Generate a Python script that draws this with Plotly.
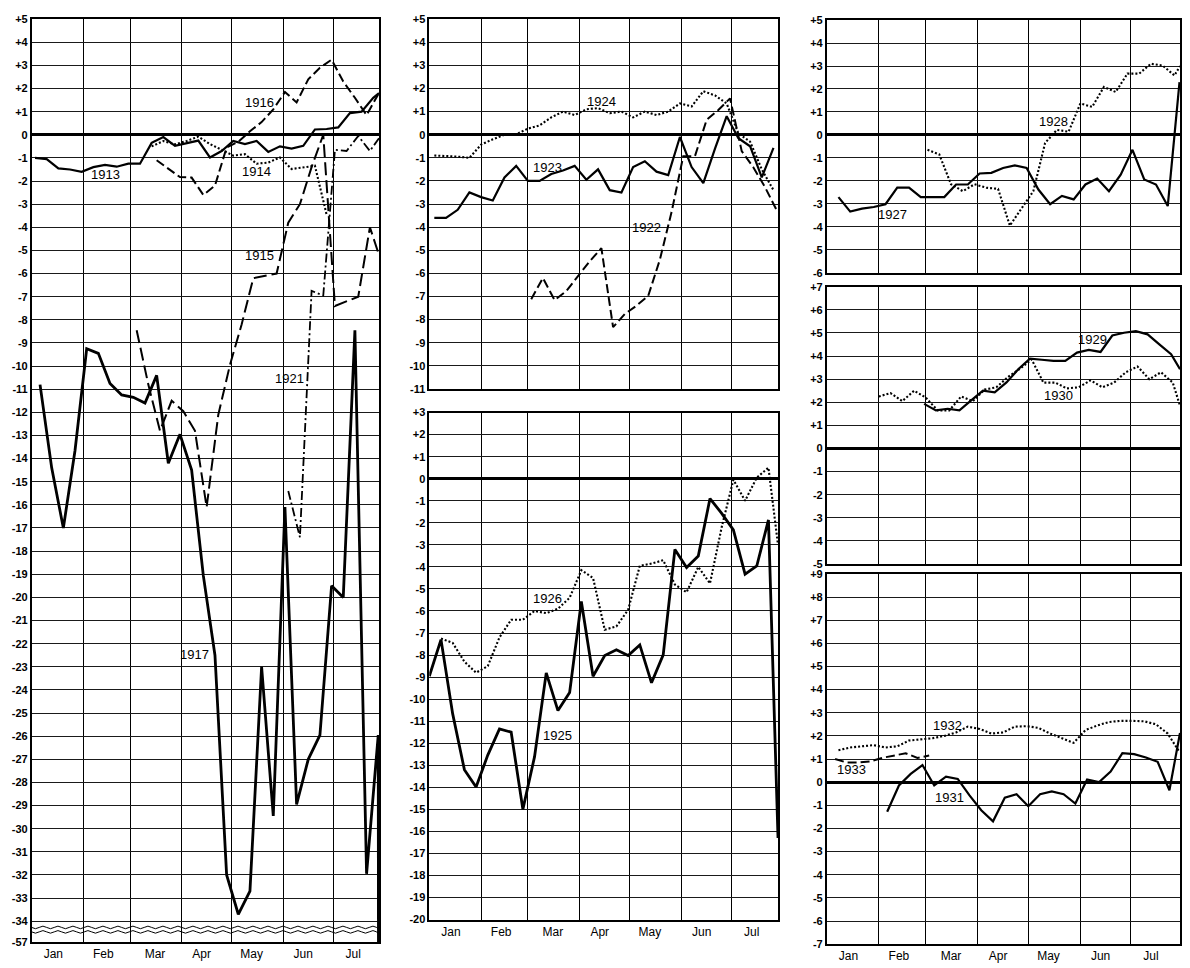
import pandas as pd
import plotly.graph_objects as go

# Every season is laid out on one nominal (non-leap) calendar year.
YEAR = 1929
W, H = 1190, 968

MONTHS = ["Jan", "Feb", "Mar", "Apr", "May", "Jun", "Jul"]
MONTH_LABEL_DATES = ["01-14", "02-13", "03-16", "04-13", "05-13", "06-13", "07-13"]

# ---- weekly readings: first reading date + weekly values (+ closing reading) ----
start1913 = "01-03"
y1913 = [-1.0, -1.05, -1.45, -1.5, -1.6, -1.4, -1.3, -1.38, -1.25, -1.25,
         -0.35, -0.1, -0.48, -0.35, -0.25, -0.98, -0.7, -0.27, -0.4, -0.27,
         -0.74, -0.5, -0.6, -0.48, 0.23, 0.25, 0.32, 0.94, 1.0, 1.6]
final1913 = 1.8

start1914 = "03-14"
y1914 = [-0.5, -0.27, -0.41, -0.27, -0.08, -0.4, -0.65, -0.9, -0.84, -1.25,
         -1.2, -0.98, -1.48, -1.41, -1.34, -3.45]

start1915 = "03-05"
y1915 = [-8.45, -10.8, -12.8, -11.5, -11.95, -12.8, -16.1, -12.1, -9.95, -8.2,
         -6.2, -6.1, -6.0, -3.8, -3.0, -1.4, 0.0, -7.4, -7.2, -7.0, -4.0]
final1915 = -5.2

start1916 = "03-17"
y1916 = [-1.1, -1.45, -1.83, -1.85, -2.6, -2.2, -0.55, -0.3, 0.15, 0.55,
         1.1, 1.85, 1.4, 2.4, 2.9, 3.25, 2.3, 1.6, 0.85, 1.75]

start1917 = "01-06"
y1917 = [-10.8, -14.4, -17.0, -13.65, -9.25, -9.45, -10.75, -11.25, -11.35, -11.6,
         -10.4, -14.2, -12.95, -14.5, -19.05, -22.5, -32.0, -33.7, -32.7, -23.0,
         -29.45, -16.1, -28.95, -27.0, -25.95, -19.5, -20.0, -8.45, -31.95, -25.95]
final1917 = -57

start1921 = "06-04"
y1921 = [-15.4, -17.4, -6.75, -6.95, -0.65, -0.7, -0.05, -0.7]
final1921 = -0.15

start1922 = "03-03"
y1922 = [-7.12, -6.2, -7.16, -6.77, -6.12, -5.48, -4.91, -8.33, -7.76, -7.4,
         -6.98, -5.41, -3.35, -0.93, -0.93, 0.64, 1.07, 1.57, -0.71, -1.42,
         -2.28, -3.28]

start1923 = "01-04"
y1923 = [-3.6, -3.6, -3.25, -2.5, -2.7, -2.85, -1.85, -1.35, -2.0, -2.0,
         -1.7, -1.55, -1.35, -1.95, -1.5, -2.4, -2.5, -1.4, -1.15, -1.6,
         -1.75, -0.1, -1.4, -2.1, -0.6, 0.8, -0.15, -0.5, -1.85, -0.57]

start1924 = "01-04"
y1924 = [-0.9, -0.92, -0.95, -1.0, -0.43, -0.2, 0.0, 0.02, 0.26, 0.4,
         0.75, 1.0, 0.85, 1.1, 1.15, 0.93, 1.0, 0.75, 1.0, 0.85,
         1.0, 1.35, 1.22, 1.88, 1.7, 1.35, 0.05, -0.3, -1.5, -2.4]

start1925 = "01-01"
y1925 = [-8.96, -7.3, -10.67, -13.2, -13.99, -12.54, -11.35, -11.5, -15.0, -12.61,
         -8.81, -10.52, -9.7, -5.57, -8.96, -8.02, -7.76, -8.02, -7.54, -9.26,
         -7.99, -3.21, -4.03, -3.51, -0.9, -1.57, -2.32, -4.33, -3.96, -1.87]
final1925 = -16.3

start1926 = "01-08"
y1926 = [-7.25, -7.45, -8.3, -8.8, -8.5, -7.2, -6.4, -6.4, -6.0, -6.1,
         -5.9, -5.4, -4.15, -4.5, -6.85, -6.7, -5.95, -3.95, -3.85, -3.7,
         -4.8, -5.15, -4.0, -4.75, -2.2, -0.05, -1.0, 0.05, 0.5]
final1926 = -3.0

start1927 = "01-08"
y1927 = [-2.71, -3.34, -3.21, -3.14, -3.02, -2.3, -2.3, -2.71, -2.71, -2.71,
         -2.16, -2.16, -1.68, -1.65, -1.44, -1.33, -1.44, -2.38, -3.02, -2.66,
         -2.81, -2.16, -1.9, -2.45, -1.73, -0.65, -1.94, -2.16, -3.1, 2.3]

start1928 = "03-02"
y1928 = [-0.65, -0.85, -2.15, -2.45, -2.15, -2.3, -2.35, -3.95, -3.2, -2.45,
         -0.35, 0.22, 0.14, 1.37, 1.22, 2.09, 1.87, 2.67, 2.67, 3.1,
         3.02, 2.59]
final1928 = 3.0

start1929 = "02-28"
y1929 = [1.93, 1.65, 1.72, 1.65, 2.08, 2.5, 2.43, 2.86, 3.43, 3.89,
         3.84, 3.79, 3.79, 4.15, 4.27, 4.18, 4.89, 5.01, 5.08, 4.94,
         4.51, 4.08]
final1929 = 3.43

start1930 = "02-01"
y1930 = [2.25, 2.4, 2.05, 2.5, 2.2, 1.65, 1.65, 2.25, 2.05, 2.55,
         2.65, 3.1, 3.45, 3.85, 2.85, 2.85, 2.6, 2.65, 2.95, 2.65,
         2.85, 3.3, 3.55, 3.0, 3.3, 2.85]
final1930 = 1.85

start1931 = "02-06"
y1931 = [-1.28, -0.14, 0.36, 0.74, -0.14, 0.24, 0.14, -0.57, -1.21, -1.69,
         -0.67, -0.52, -1.04, -0.52, -0.4, -0.52, -0.92, 0.12, 0.0, 0.46,
         1.25, 1.21, 1.07, 0.88, -0.35]
final1931 = 2.13

start1932 = "01-08"
y1932 = [1.38, 1.5, 1.55, 1.6, 1.5, 1.55, 1.8, 1.85, 1.9, 2.0,
         2.15, 2.4, 2.3, 2.1, 2.15, 2.4, 2.42, 2.35, 2.1, 1.9,
         1.7, 2.25, 2.45, 2.6, 2.65, 2.65, 2.63, 2.5, 2.1, 1.3]

start1933 = "01-06"
y1933 = [1.0, 0.85, 0.85, 0.9, 1.05, 1.15, 1.25, 1.05, 1.15]

# ---- panels: axis suffix, x/y domains (paper), y range, closing date ----
PANELS = {
    "L":  dict(ax="",  xd=(31.7, 379.0), yd=(13.3, 948.0), yr=(-34.91, 5), end="07-28 11:00", labels=True),
    "MT": dict(ax="2", xd=(429.3, 778.0), yd=(13.3, 387.7), yr=(-11, 5), end="07-28 17:00", labels=False),
    "MB": dict(ax="3", xd=(429.3, 778.0), yd=(411.7, 925.0), yr=(-20, 3), end="07-28 17:00", labels=True),
    "RT": dict(ax="4", xd=(826.7, 1180.0), yd=(14.3, 270.0), yr=(-6, 5), end="07-30 07:00", labels=False),
    "RM": dict(ax="5", xd=(826.7, 1180.0), yd=(284.3, 565.0), yr=(-5, 7), end="07-30 07:00", labels=False),
    "RB": dict(ax="6", xd=(826.7, 1180.0), yd=(575.0, 950.0), yr=(-7, 9), end="07-30 07:00", labels=True),
}

STYLES = {
    "solid": dict(width=2.2, dash="solid"),
    "heavy": dict(width=2.8, dash="solid"),
    "dot": dict(width=2.1, dash="2px,2px"),
    "dash": dict(width=2.0, dash="9px,4px"),
    "longdash": dict(width=2.0, dash="13px,5px"),
    "dashdot": dict(width=1.8, dash="9px,3px,2px,3px"),
}

SERIES = [
    # year, panel, start, values, closing value, style
    ("1913", "L", start1913, y1913, final1913, "solid"),
    ("1914", "L", start1914, y1914, None, "dot"),
    ("1915", "L", start1915, y1915, final1915, "longdash"),
    ("1916", "L", start1916, y1916, None, "dash"),
    ("1917", "L", start1917, y1917, final1917, "heavy"),
    ("1921", "L", start1921, y1921, final1921, "dashdot"),
    ("1922", "MT", start1922, y1922, None, "dash"),
    ("1923", "MT", start1923, y1923, None, "solid"),
    ("1924", "MT", start1924, y1924, None, "dot"),
    ("1925", "MB", start1925, y1925, final1925, "heavy"),
    ("1926", "MB", start1926, y1926, final1926, "dot"),
    ("1927", "RT", start1927, y1927, None, "solid"),
    ("1928", "RT", start1928, y1928, final1928, "dot"),
    ("1929", "RM", start1929, y1929, final1929, "solid"),
    ("1930", "RM", start1930, y1930, final1930, "dot"),
    ("1931", "RB", start1931, y1931, final1931, "solid"),
    ("1932", "RB", start1932, y1932, None, "dot"),
    ("1933", "RB", start1933, y1933, None, "dash"),
]

# year labels written on the chart: (year, panel, date, value)
YEAR_LABELS = [
    ("1913", "L", "02-14", -1.72), ("1916", "L", "05-18", 1.38),
    ("1914", "L", "05-16", -1.6), ("1915", "L", "05-18", -5.23),
    ("1921", "L", "06-05", -10.53), ("1917", "L", "04-09", -22.47),
    ("1924", "MT", "04-14", 1.42), ("1923", "MT", "03-13", -1.42),
    ("1922", "MT", "05-11", -4.02),
    ("1926", "MB", "03-13", -5.45), ("1925", "MB", "03-19", -11.64),
    ("1928", "RT", "05-16", 0.57), ("1927", "RT", "02-09", -3.48),
    ("1929", "RM", "06-08", 4.72), ("1930", "RM", "05-19", 2.29),
    ("1932", "RB", "03-14", 2.45), ("1933", "RB", "01-16", 0.57),
    ("1931", "RB", "03-15", -0.64),
]

FONT = "Liberation Sans"


def day(md):
    return pd.Timestamp(f"{YEAR}-{md}")


def weekly(start, values, final, end):
    t0 = day(start)
    xs = [t0 + pd.Timedelta(days=7 * i) for i in range(len(values))]
    ys = list(values)
    if final is not None:
        xs.append(day(end))
        ys.append(final)
    return xs, ys


def signed(v):
    return "+%d" % v if v > 0 else ("0" if v == 0 else "-%d" % -v)


fig = go.Figure()

for year, pk, start, vals, final, style in SERIES:
    p = PANELS[pk]
    xs, ys = weekly(start, vals, final, p["end"])
    fig.add_trace(go.Scatter(
        x=xs, y=ys, mode="lines", name=year,
        line=dict(color="black", width=STYLES[style]["width"], dash=STYLES[style]["dash"]),
        xaxis="x" + p["ax"], yaxis="y" + p["ax"], hoverinfo="skip",
    ))

layout = {}
for pk, p in PANELS.items():
    lo, hi = p["yr"]
    if pk == "L":
        tvals = list(range(-34, 6)) + [-34.9]
        ttext = [signed(v) for v in range(-34, 6)] + ["-57"]
    else:
        tvals = list(range(int(lo), int(hi) + 1))
        ttext = [signed(v) for v in tvals]
    xd = (p["xd"][0] / W, p["xd"][1] / W)
    yd = (1 - p["yd"][1] / H, 1 - p["yd"][0] / H)
    layout["xaxis" + p["ax"]] = dict(
        type="date", domain=xd, anchor="y" + p["ax"],
        range=[day("01-01"), day(p["end"])],
        tickmode="array", tickvals=[day(m) for m in MONTH_LABEL_DATES], ticktext=MONTHS,
        showticklabels=p["labels"], ticks="", showgrid=False, zeroline=False,
        showline=True, mirror=True, linecolor="black", linewidth=1.6,
        minor=dict(dtick="M1", tick0=day("01-01"), showgrid=True,
                   gridcolor="black", gridwidth=1.4, ticks=""),
        tickfont=dict(family=FONT, size=12, color="black"),
    )
    layout["yaxis" + p["ax"]] = dict(
        domain=yd, anchor="x" + p["ax"], range=[lo, hi],
        tickmode="array", tickvals=tvals, ticktext=ttext, ticks="",
        showgrid=True, gridcolor="#1a1a1a", gridwidth=1,
        zeroline=True, zerolinecolor="black", zerolinewidth=2.8,
        showline=True, mirror=True, linecolor="black", linewidth=1.6,
        tickfont=dict(family=FONT, size=11, color="black", weight="bold"),
    )

annotations = []
for year, pk, md, v in YEAR_LABELS:
    p = PANELS[pk]
    annotations.append(dict(
        x=day(md), y=v, xref="x" + p["ax"], yref="y" + p["ax"], text=year,
        showarrow=False, font=dict(family=FONT, size=13, color="black"),
    ))


def wavy_path(x0, x1, y, half=7.5, amp=1.3):
    d = f"M {x0 / W:.5f},{1 - y / H:.5f}"
    x, sign = x0, 1
    while x < x1:
        xn = min(x + half, x1)
        d += f" Q {(x + xn) / 2 / W:.5f},{1 - (y + sign * 2 * amp) / H:.5f} {xn / W:.5f},{1 - y / H:.5f}"
        sign = -sign
        x = xn
    return d


# broken-scale marks under the -34 line of the left panel
shapes = [
    dict(type="path", xref="paper", yref="paper",
         path=wavy_path(PANELS["L"]["xd"][0], PANELS["L"]["xd"][1], yy),
         line=dict(color="black", width=1))
    for yy in (933.0, 937.5)
]

fig.update_layout(
    width=W, height=H, margin=dict(l=0, r=0, t=0, b=0),
    paper_bgcolor="white", plot_bgcolor="white", showlegend=False,
    annotations=annotations, shapes=shapes, **layout,
)

fig.write_html("out.html")
